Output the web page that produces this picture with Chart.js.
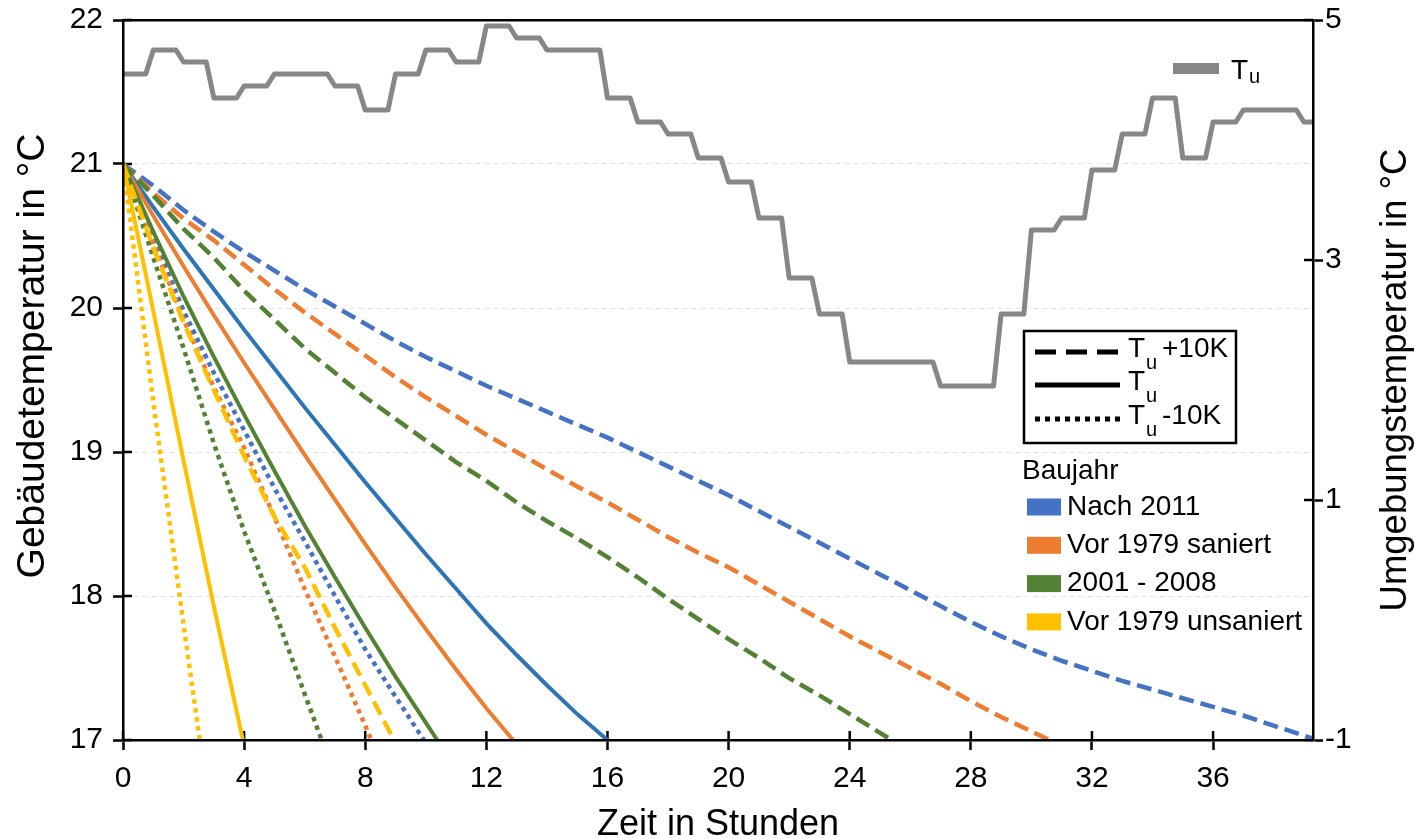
<!DOCTYPE html>
<html lang="de">
<head>
<meta charset="utf-8">
<title>Auskühlung nach Baujahr</title>
<script src="https://cdn.jsdelivr.net/npm/chart.js@4.4.1/dist/chart.umd.min.js"></script>
<style>
    html, body { margin: 0; padding: 0; background: #fff; }
    #wrap { width: 1417px; height: 839px; }
</style>
</head>
<body>
<div id="wrap"><canvas id="chart" width="1417" height="839"></canvas></div>
<script>
// Zeitachse in Stunden (gemeinsam für alle Reihen)
const stunden = [0, 1, 2, 3, 4, 5, 6, 7, 8, 9, 10, 11, 12, 13, 14, 15, 16, 17, 18, 19, 20,
    21, 22, 23, 24, 25, 26, 27, 28, 29, 30, 31, 32, 33, 34, 35, 36, 37, 38, 39, 40];

// Umgebungstemperatur Tu, Stundenwerte (Viertelstunden-Auflösung im Original)
const tuStundenwerte = [4.55, 4.75, 4.65, 4.35, 4.45, 4.55, 4.55, 4.45, 4.25, 4.55,
    4.75, 4.65, 4.95, 4.85, 4.75, 4.75, 4.35, 4.15, 4.05, 3.85,
    3.65, 3.35, 2.85, 2.55, 2.15, 2.15, 2.15, 1.95, 1.95, 2.55,
    3.25, 3.35, 3.75, 4.05, 4.35, 3.85, 4.15, 4.25, 4.25, 4.15];

// Gebäudetemperatur je Baujahr, drei Fälle (Tu +10K / Tu / Tu -10K)
const nach2011Plus10 = [21, 20.85, 20.68, 20.53, 20.39, 20.26, 20.13, 20.01, 19.89, 19.77, 19.66,
    19.56, 19.46, 19.37, 19.28, 19.19, 19.1, 19.0, 18.9, 18.8, 18.7, 18.59, 18.48, 18.37, 18.26,
    18.15, 18.04, 17.93, 17.82, 17.72, 17.63, 17.55, 17.48, 17.41, 17.35, 17.29, 17.23, 17.17,
    17.1, 17.03, 16.96];
const nach2011Tu = [21, 20.7, 20.41, 20.13, 19.85, 19.58, 19.31, 19.05, 18.79, 18.54, 18.29, 18.05,
    17.81, 17.59, 17.38, 17.18, 17.0, 16.82];
const nach2011Minus10 = [21, 20.5, 19.98, 19.55, 19.15, 18.75, 18.38, 18.0, 17.63, 17.3, 16.98];

const vor1979sanPlus10 = [21, 20.8, 20.62, 20.47, 20.3, 20.13, 19.97, 19.82, 19.67, 19.52, 19.38,
    19.25, 19.12, 19.0, 18.88, 18.76, 18.65, 18.53, 18.41, 18.3, 18.2, 18.08, 17.96, 17.84, 17.72,
    17.61, 17.5, 17.39, 17.27, 17.16, 17.06, 16.96];
const vor1979sanTu = [21, 20.64, 20.29, 19.95, 19.62, 19.3, 18.98, 18.67, 18.36, 18.06, 17.77, 17.49,
    17.22, 16.97];
const vor1979sanMinus10 = [21, 20.45, 19.92, 19.45, 19.03, 18.55, 18.05, 17.58, 17.1, 16.6];

const bj2001Plus10 = [21, 20.78, 20.55, 20.35, 20.12, 19.92, 19.72, 19.55, 19.38, 19.23, 19.08,
    18.93, 18.8, 18.65, 18.52, 18.4, 18.27, 18.13, 17.98, 17.84, 17.7, 17.57, 17.43, 17.31, 17.18,
    17.05, 16.92];
const bj2001Tu = [21, 20.53, 20.08, 19.66, 19.26, 18.87, 18.49, 18.13, 17.78, 17.44, 17.12, 16.8];
const bj2001Minus10 = [21, 20.35, 19.72, 19.06, 18.45, 17.9, 17.32, 16.75];

const vor1979unsPlus10 = [21, 20.42, 19.9, 19.43, 18.97, 18.55, 18.2, 17.78, 17.38, 16.98];
const vor1979unsTu = [21, 19.98, 18.94, 17.93, 16.96];
const vor1979unsMinus10 = [21, 19.35, 17.8, 16.3];

// Legende / Beschriftungen
const baujahre = ['Nach 2011', 'Vor 1979 saniert', '2001 - 2008', 'Vor 1979 unsaniert'];
const faelle = ['+10K', '', '-10K'];
const farben = ['#4472C4', '#ED7D31', '#548235', '#FFC000'];
const farbeBlauDurchgezogen = '#2E75B6';
const farbeTu = '#878787';
const schrift = "'Liberation Sans', Arial, sans-serif";

// Linienstile je Fall
const stile = {
    plus10: { dash: [15, 7], breite: 4.5 },
    tu: { dash: [], breite: 4 },
    minus10: { dash: [4.5, 4.5], breite: 4.5 }
};

const reihen = [
    { bj: 0, fall: 'plus10', werte: nach2011Plus10 },
    { bj: 0, fall: 'tu', werte: nach2011Tu },
    { bj: 0, fall: 'minus10', werte: nach2011Minus10 },
    { bj: 1, fall: 'plus10', werte: vor1979sanPlus10 },
    { bj: 1, fall: 'tu', werte: vor1979sanTu },
    { bj: 1, fall: 'minus10', werte: vor1979sanMinus10 },
    { bj: 2, fall: 'plus10', werte: bj2001Plus10 },
    { bj: 2, fall: 'tu', werte: bj2001Tu },
    { bj: 2, fall: 'minus10', werte: bj2001Minus10 },
    { bj: 3, fall: 'plus10', werte: vor1979unsPlus10 },
    { bj: 3, fall: 'tu', werte: vor1979unsTu },
    { bj: 3, fall: 'minus10', werte: vor1979unsMinus10 }
];

function punkte(werte) {
    return werte.map((wert, i) => ({ x: stunden[i], y: wert }));
}

// Tu: jeder Stundenwert gilt für vier Viertelstunden
const tuPunkte = [];
tuStundenwerte.forEach((wert, h) => {
    for (let q = 0; q < 4; q++) {
        tuPunkte.push({ x: h + q / 4, y: wert });
    }
});

const gebaeudeDatasets = reihen.map(r => {
    const farbe = (r.bj === 0 && r.fall === 'tu') ? farbeBlauDurchgezogen : farben[r.bj];
    return {
        label: baujahre[r.bj] + ' ' + r.fall,
        data: punkte(r.werte),
        borderColor: farbe,
        backgroundColor: farbe,
        borderWidth: stile[r.fall].breite,
        borderDash: stile[r.fall].dash,
        pointRadius: 0,
        tension: 0,
        clip: 0,
        xAxisID: 'x',
        yAxisID: 'y'
    };
}).reverse(); // letzte Excel-Reihe liegt oben

const tuDataset = {
    label: 'Tu',
    data: tuPunkte,
    borderColor: farbeTu,
    borderWidth: 5,
    borderJoinStyle: 'round',
    pointRadius: 0,
    tension: 0,
    clip: 0,
    xAxisID: 'x',
    yAxisID: 'y2'
};

// "T" mit tiefgestelltem "u"
function zeichneTu(ctx, x, y, groesse, tief) {
    ctx.font = groesse + 'px ' + schrift;
    ctx.fillText('T', x, y);
    const w = ctx.measureText('T').width;
    const klein = Math.round(groesse * 0.7);
    ctx.font = klein + 'px ' + schrift;
    ctx.fillText('u', x + w + 1, y + tief);
    return w + 1 + ctx.measureText('u').width;
}

// senkrechter Achsentitel, von unten nach oben gelesen
function achsenTitel(ctx, text, x, y, groesse) {
    ctx.save();
    ctx.translate(x, y);
    ctx.rotate(-Math.PI / 2);
    ctx.textAlign = 'center';
    ctx.textBaseline = 'middle';
    ctx.fillStyle = '#000';
    ctx.font = groesse + 'px ' + schrift;
    ctx.fillText(text, 0, 0);
    ctx.restore();
}

// Ticks über die Achse hinaus nach innen, Legenden, senkrechte Achsentitel
const dekoration = {
    id: 'dekoration',
    beforeDatasetsDraw(chart) {
        const { ctx, scales } = chart;
        ctx.save();
        ctx.strokeStyle = '#000';
        ctx.lineWidth = 2.5;
        ['x', 'y', 'y2'].forEach(id => {
            const s = scales[id];
            s.ticks.forEach(t => {
                const p = s.getPixelForValue(t.value);
                ctx.beginPath();
                if (id === 'x') { ctx.moveTo(p, s.top); ctx.lineTo(p, s.top - 9); }
                else if (id === 'y') { ctx.moveTo(s.right, p); ctx.lineTo(s.right + 9, p); }
                else { ctx.moveTo(s.left, p); ctx.lineTo(s.left - 9, p); }
                ctx.stroke();
            });
        });
        ctx.restore();
    },
    afterDraw(chart) {
        const { ctx, chartArea } = chart;
        ctx.save();
        ctx.fillStyle = '#000';
        ctx.textBaseline = 'alphabetic';

        // Legende Tu oben rechts
        ctx.fillStyle = farbeTu;
        ctx.fillRect(1173, 63, 46, 11);
        ctx.fillStyle = '#000';
        zeichneTu(ctx, 1231, 79, 28, 4);

        // Legende Linienstile (Kasten)
        const kx = 1024, ky = 331, kw = 212, kh = 112;
        ctx.fillStyle = '#fff';
        ctx.fillRect(kx, ky, kw, kh);
        ctx.strokeStyle = '#000';
        ctx.lineWidth = 2.5;
        ctx.strokeRect(kx, ky, kw, kh);
        const zeilen = [352, 385, 419];
        const muster = [[21, 10], [], [5, 5]];
        zeilen.forEach((zy, i) => {
            ctx.save();
            ctx.lineWidth = 5;
            ctx.setLineDash(muster[i]);
            ctx.beginPath();
            ctx.moveTo(1035, zy);
            ctx.lineTo(1120, zy);
            ctx.stroke();
            ctx.restore();
            ctx.fillStyle = '#000';
            zeichneTu(ctx, 1128, zy + 5, 28, 12);
            if (faelle[i]) {
                ctx.font = '28px ' + schrift;
                ctx.fillText(faelle[i], 1162, zy + 5);
            }
        });

        // Legende Baujahr
        ctx.font = '28px ' + schrift;
        ctx.fillStyle = '#000';
        ctx.fillText('Baujahr', 1022, 479);
        ctx.textBaseline = 'middle';
        baujahre.forEach((name, i) => {
            const cy = 507 + i * 38.3;
            ctx.fillStyle = farben[i];
            ctx.fillRect(1027, cy - 8.5, 34, 17);
            ctx.fillStyle = '#000';
            ctx.fillText(name, 1067, cy);
        });
        ctx.restore();

        // Achsentitel links und rechts
        achsenTitel(ctx, 'Gebäudetemperatur in °C', 33, 356, 39);
        achsenTitel(ctx, 'Umgebungstemperatur in °C', 1396, (chartArea.top + chartArea.bottom) / 2, 36.5);
    }
};

Chart.defaults.font.family = schrift;
Chart.defaults.color = '#000';

const ctx = document.getElementById('chart').getContext('2d');
const grafik = new Chart(ctx, {
    type: 'line',
    data: { datasets: [...gebaeudeDatasets, tuDataset] },
    options: {
        responsive: false,
        animation: false,
        events: [],
        layout: { padding: 0 },
        plugins: {
            legend: { display: false },
            tooltip: { enabled: false }
        },
        scales: {
            x: {
                type: 'linear',
                position: 'bottom',
                min: 0,
                max: 39.3,
                afterFit: s => { s.height = 99; s.paddingLeft = 0; s.paddingRight = 0; },
                ticks: { stepSize: 4, includeBounds: false, padding: 11, font: { size: 30 }, maxRotation: 0 },
                grid: { drawOnChartArea: false, tickLength: 10, tickColor: '#000', tickWidth: 2.5 },
                border: { color: '#000', width: 2.5, z: 1 },
                title: {
                    display: true,
                    text: 'Zeit in Stunden',
                    font: { size: 36, lineHeight: 0.8 },
                    padding: 0
                }
            },
            x2: {
                type: 'linear',
                position: 'top',
                min: 0,
                max: 1,
                afterFit: s => { s.height = 20; s.paddingLeft = 0; s.paddingRight = 0; },
                ticks: { display: false },
                grid: { display: false },
                border: { color: '#000', width: 2.5, z: 1 }
            },
            y: {
                type: 'linear',
                position: 'left',
                min: 17,
                max: 22,
                afterFit: s => { s.width = 123; s.paddingTop = 0; s.paddingBottom = 0; },
                ticks: { stepSize: 1, padding: 10, font: { size: 30 } },
                grid: {
                    color: '#e4e4e4',
                    lineWidth: 1,
                    tickLength: 10,
                    tickColor: '#000',
                    tickWidth: 2.5
                },
                border: { color: '#000', width: 2.5, z: 1, dash: [5, 4] }
            },
            y2: {
                type: 'linear',
                position: 'right',
                min: -1,
                max: 5,
                afterFit: s => { s.width = 104; s.paddingTop = 0; s.paddingBottom = 0; },
                ticks: { stepSize: 2, padding: 2, font: { size: 30 } },
                grid: { drawOnChartArea: false, tickLength: 10, tickColor: '#000', tickWidth: 2.5 },
                border: { color: '#000', width: 2.5, z: 1 }
            }
        }
    },
    plugins: [dekoration]
});
</script>
</body>
</html>
